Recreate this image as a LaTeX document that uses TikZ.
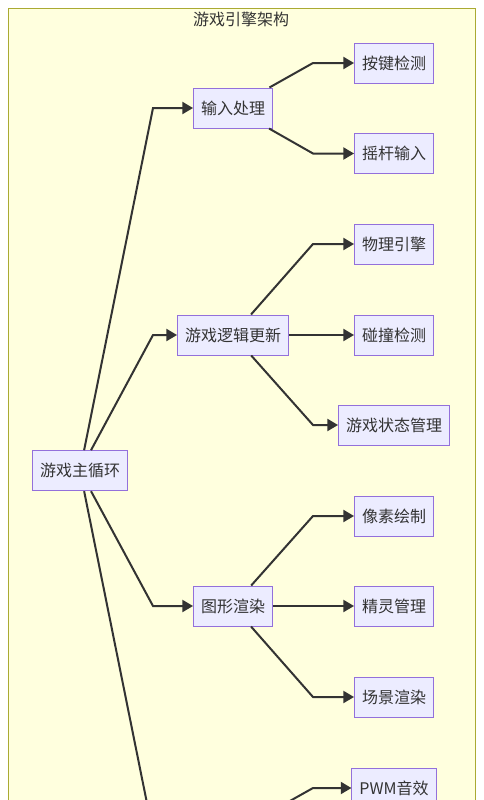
\documentclass[tikz,border=0pt]{standalone}
\usepackage{fontspec}
\usepackage{xcolor}
\usepackage{tikz}
\usetikzlibrary{arrows.meta}
\setmainfont{Noto Sans CJK SC}

\definecolor{clusterfill}{HTML}{FFFFDE}
\definecolor{clusterline}{HTML}{AAAA33}
\definecolor{boxfill}{HTML}{ECECFF}
\definecolor{boxline}{HTML}{9370DB}
\definecolor{inkgray}{HTML}{333333}

\tikzset{
  box/.style={draw=boxline, fill=boxfill, line width=0.75pt, minimum height=30pt,
    inner xsep=5.6pt, inner ysep=0pt, text=inkgray, font=\fontsize{12}{14}\selectfont},
  link/.style={draw=inkgray, line width=1.5pt, -{Triangle[length=8pt,width=9pt]}}
}

\begin{document}
\begin{tikzpicture}[x=0.75pt,y=0.75pt,yscale=-1,xscale=1]
\useasboundingbox (0,0) rectangle (483,800);
\clip (0,0) rectangle (483,800);
\fill[white] (0,0) rectangle (483,800);

% cluster
\draw[draw=clusterline, fill=clusterfill, line width=0.75pt] (8,8) rectangle (475,1000);
\node (title) at (241,19) [text=inkgray, font=\fontsize{12}{14}\selectfont] {游戏引擎架构};

% nodes
\node (loop) at (80,470.7) [box] {游戏主循环};

\node (input) at (233,108) [box] {输入处理};
\node (logic) at (233,335) [box] {游戏逻辑更新};
\node (render) at (233,606) [box] {图形渲染};
\coordinate (audio) at (233,833);

\node (keys) at (394,63) [box] {按键检测};
\node (stick) at (394,153.5) [box] {摇杆输入};
\node (phys) at (394,244) [box] {物理引擎};
\node (hit) at (394,335) [box] {碰撞检测};
\node (state) at (394,425) [box] {游戏状态管理};
\node (pixel) at (394,516) [box] {像素绘制};
\node (sprite) at (394,606) [box] {精灵管理};
\node (scene) at (394,697) [box] {场景渲染};
\node (pwm) at (394,788) [box] {PWM音效};

% edges
\draw[link] (loop) -- (153,108) -- (input);
\draw[link] (loop) -- (153,335) -- (logic);
\draw[link] (loop) -- (153,606) -- (render);
\draw[link] (loop) -- (153,833) -- (audio);

\draw[link] (input) -- (313,63) -- (keys);
\draw[link] (input) -- (313,153.5) -- (stick);

\draw[link] (logic) -- (313,244) -- (phys);
\draw[link] (logic) -- (hit);
\draw[link] (logic) -- (313,425) -- (state);

\draw[link] (render) -- (313,516) -- (pixel);
\draw[link] (render) -- (sprite);
\draw[link] (render) -- (313,697) -- (scene);

\draw[link] (audio) -- (313,788) -- (pwm);
\end{tikzpicture}
\end{document}
